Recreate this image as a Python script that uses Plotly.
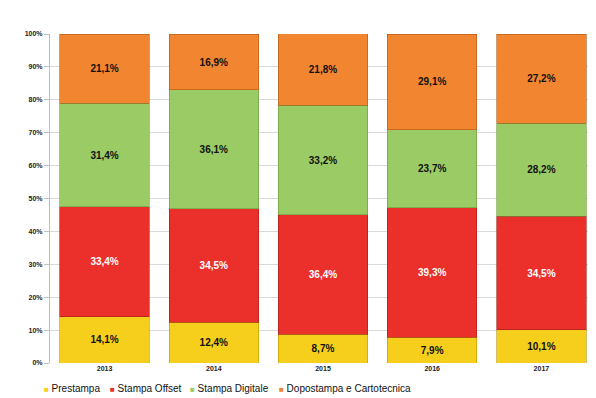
import plotly.graph_objects as go

years = ["2013", "2014", "2015", "2016", "2017"]
prestampa = [14.1, 12.4, 8.7, 7.9, 10.1]
stampa_offset = [33.4, 34.5, 36.4, 39.3, 34.5]
stampa_digitale = [31.4, 36.1, 33.2, 23.7, 28.2]
dopostampa = [21.1, 16.9, 21.8, 29.1, 27.2]
series_names = ["Prestampa", "Stampa Offset", "Stampa Digitale", "Dopostampa e Cartotecnica"]

colors = ["#F6CF1C", "#EB302C", "#9ACB64", "#F28530"]
text_colors = ["#111111", "#FFFFFF", "#111111", "#111111"]
line_colors = ["#B8960A", "#A01E1A", "#6E9A40", "#B05A18"]

W, H = 596, 398
ML, MR, MT, MB = 42, 8, 26, 43
PW, PH = W - ML - MR, H - MT - MB
FONT = "Liberation Sans, Arial, sans-serif"

fig = go.Figure()
for name, vals, col, tcol, lcol in zip(series_names,
                                        [prestampa, stampa_offset, stampa_digitale, dopostampa],
                                        colors, text_colors, line_colors):
    fig.add_trace(go.Bar(
        name=name, x=years, y=vals,
        marker=dict(color=col, line=dict(color=lcol, width=0.6)),
        text=[f"{v:.1f}%".replace(".", ",") for v in vals],
        textposition="inside", insidetextanchor="middle", textangle=0,
        constraintext="none",
        textfont=dict(color=tcol, size=10, family=FONT, weight="bold"),
        hoverinfo="skip", showlegend=False,
    ))

# legend drawn as text entries below the plot (positions in pixels from left)
legend_x_px = [34, 100, 180, 269]
annotations = []
for name, col, xp in zip(series_names, colors, legend_x_px):
    annotations.append(dict(
        text=f"<span style='color:{col};font-size:8px'>■</span> {name}",
        x=(xp - ML) / PW, y=(MT + PH - 380) / PH, xref="paper", yref="paper",
        xanchor="left", yanchor="middle", showarrow=False,
        font=dict(size=10, family=FONT, color="#111111"),
    ))

fig.update_layout(
    barmode="stack", bargap=0.18,
    width=W, height=H,
    margin=dict(l=ML, r=MR, t=MT, b=MB, autoexpand=False),
    paper_bgcolor="white", plot_bgcolor="white",
    font=dict(family=FONT, color="#222222"),
    showlegend=False,
    annotations=annotations,
)
fig.update_yaxes(range=[0, 100], dtick=10, ticksuffix="%", showgrid=True,
                 gridcolor="#D9D9D9", gridwidth=1, showline=True, linecolor="#BFBFBF",
                 ticks="outside", ticklen=5, tickcolor="#BFBFBF",
                 tickfont=dict(size=7, family=FONT, color="#222222", weight="bold"),
                 zeroline=False, automargin=False)
fig.update_xaxes(showline=False, ticks="", automargin=False,
                 tickfont=dict(size=7, family=FONT, color="#222222", weight="bold"))

fig.write_html("out.html")
